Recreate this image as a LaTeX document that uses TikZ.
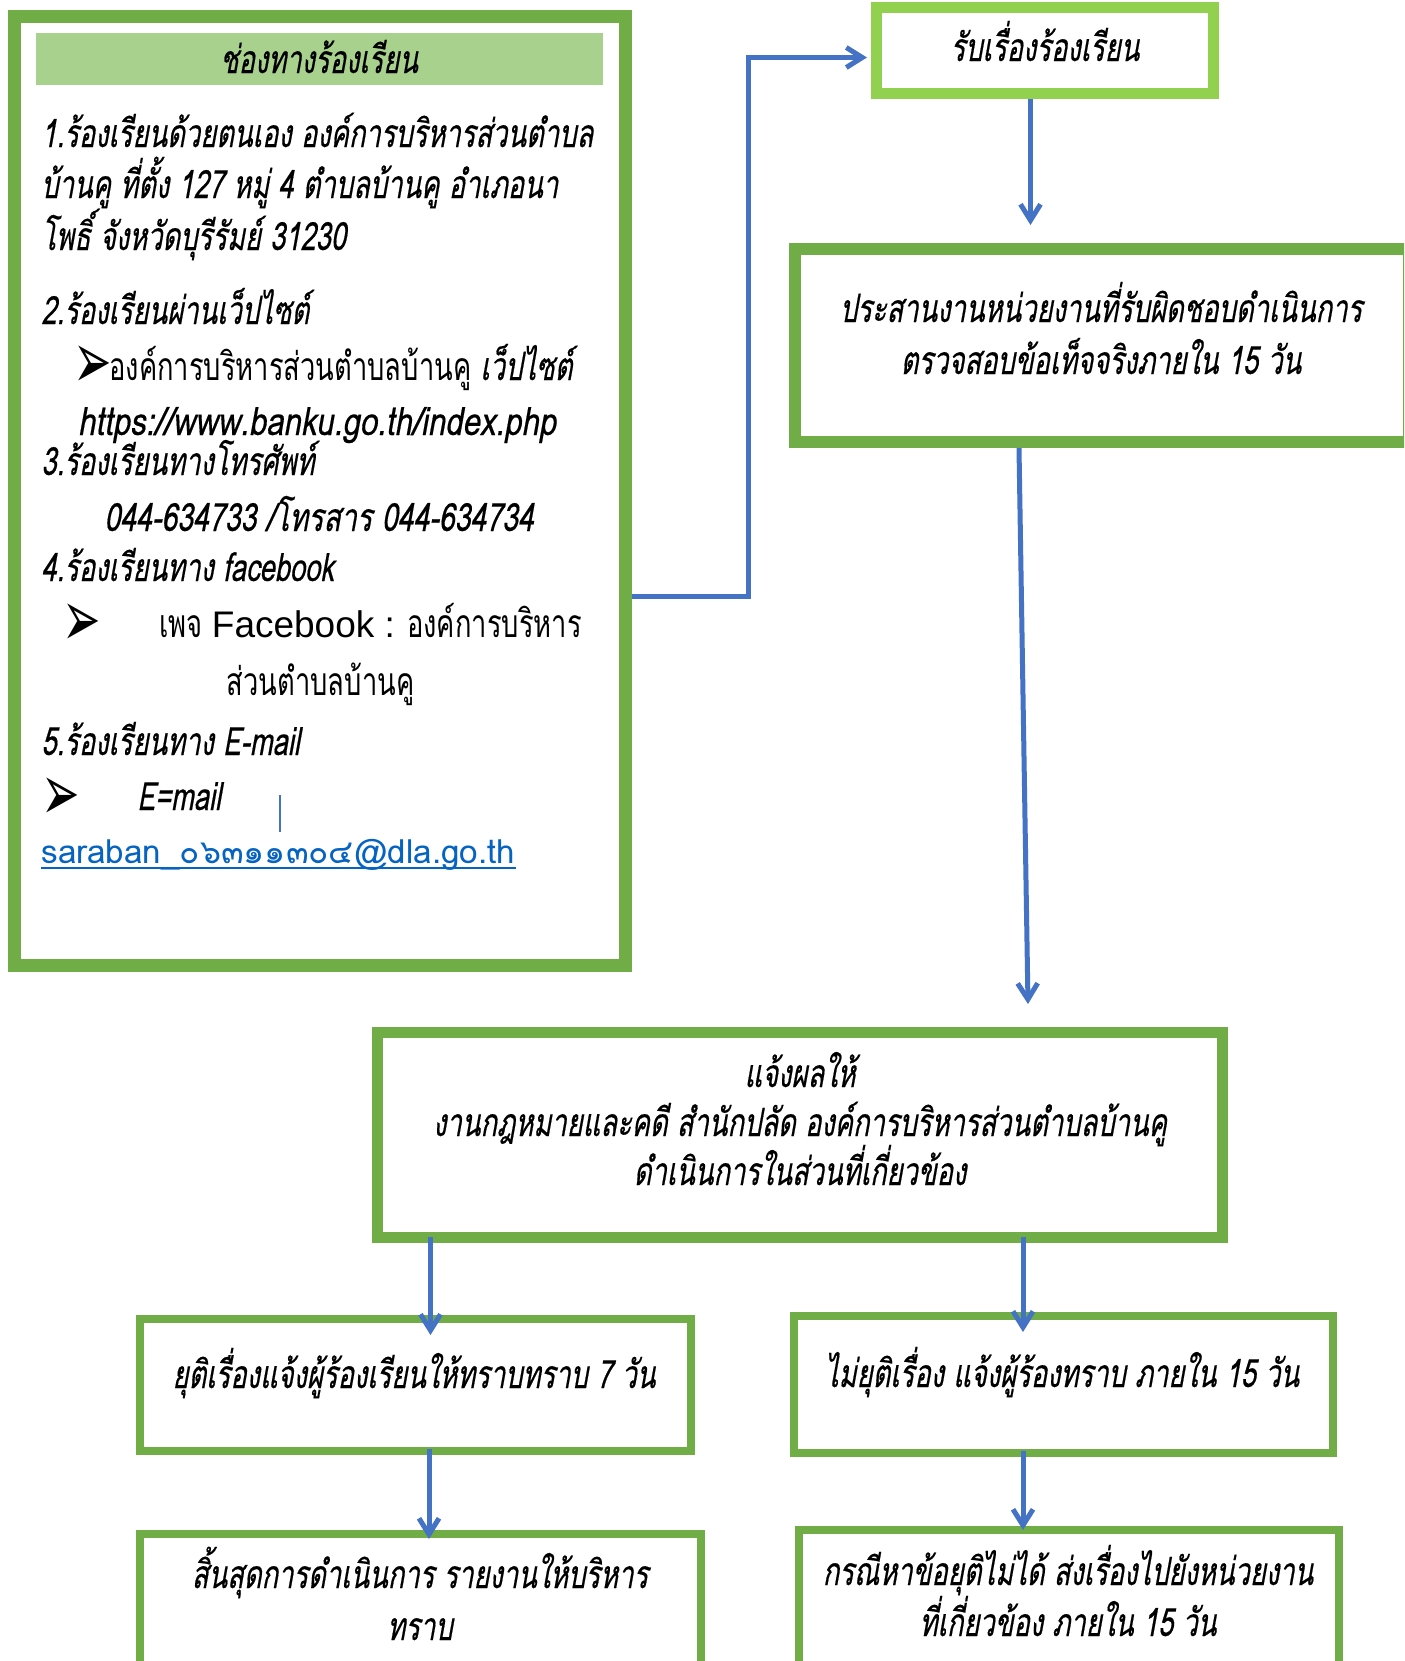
\documentclass[tikz,border=0pt]{standalone}
\usepackage{fontspec}
\usepackage{graphicx}
\usetikzlibrary{arrows.meta,fit,calc}
\newfontfamily\thit[Script=Thai,FakeSlant=0.18,FakeStretch=0.70,FakeBold=0.4]{Loma}
\newfontfamily\thitw[Script=Thai,FakeSlant=0.18,FakeStretch=0.80,FakeBold=0.4]{Loma}
\newfontfamily\thitn[Script=Thai,FakeSlant=0.18,FakeStretch=0.73,FakeBold=0.4]{Loma}
\newfontfamily\thrm[Script=Thai,FakeStretch=0.70]{Loma}
\newfontfamily\thmail[Script=Thai]{Loma}
\newfontfamily\fbfont{Liberation Sans}
\newfontfamily\dingfont{DejaVu Sans}
\newcommand{\bularrow}{\scalebox{1.15}[2.0]{➢}}
\definecolor{gmid}{HTML}{70AD47}
\definecolor{glight}{HTML}{92D050}
\definecolor{hdr}{HTML}{A9D18E}
\definecolor{cblue}{HTML}{4472C4}
\definecolor{mailblue}{HTML}{0563C1}
\tikzset{
  box/.style={draw=gmid,line width=#1,inner sep=0pt},
  box/.default=4pt,
  conn/.style={draw=cblue,line width=2.5pt,-{Straight Barb[length=8pt,width=10pt]}},
  ti/.style={font=\thit\fontsize{19.5}{23}\selectfont,inner sep=0pt},
  tl/.style={ti,anchor=base west},
  tc/.style={ti,anchor=base},
  tr/.style={font=\thrm\fontsize{19.5}{23}\selectfont,inner sep=0pt,anchor=base west},
  bul/.style={font=\dingfont\fontsize{20}{24}\selectfont,inner sep=0pt,anchor=base west},
}
\begin{document}
\begin{tikzpicture}[x=0.5pt,y=-0.5pt]
\useasboundingbox (0,0) rectangle (1404,1661);
\clip (0,0) rectangle (1404,1661);
\fill[white] (0,0) rectangle (1404,1661);

% left box
\node[box=6.5pt,fit={(14.5,16.5) (625.5,965.5)}] (L) {};
\node[fill=hdr,inner sep=0pt,fit={(36,33) (603,85)}] (H) {};
\node[tc] (Ht) at (319,73) {ช่องทางร้องเรียน};
\node[tl] (l1) at (41,147) {1.ร้องเรียนด้วยตนเอง องค์การบริหารส่วนตำบล};
\node[tl] (l2) at (41,198) {บ้านคู ที่ตั้ง 127 หมู่ 4 ตำบลบ้านคู อำเภอนา};
\node[tl] (l3) at (41,250) {โพธิ์ จังหวัดบุรีรัมย์ 31230};
\node[tl] (l4) at (41,324) {2.ร้องเรียนผ่านเว็ปไซต์};
\node[bul] (a1) at (73,388) {\bularrow};
\node[tr] (l5) at (109,380) {องค์การบริหารส่วนตำบลบ้านคู {\thit เว็ปไซต์}};
\node[tl,font=\thitw\fontsize{19.5}{23}\selectfont] (l6) at (77.5,435) {https://www.banku.go.th/index.php};
\node[tl] (l7) at (41,475) {3.ร้องเรียนทางโทรศัพท์};
\node[tl,font=\thitn\fontsize{19.5}{23}\selectfont] (l8) at (104,531) {044-634733 /โทรสาร 044-634734};
\node[tl] (l9) at (41,581) {4.ร้องเรียนทาง facebook};
\node[bul] (a2) at (62,646) {\bularrow};
\node[tr] (l10) at (159,637) {เพจ {\fbfont\fontsize{18.5}{22}\selectfont Facebook :} องค์การบริหาร};
\node[tr] (l11) at (226.5,695) {ส่วนตำบลบ้านคู};
\node[tl] (l12) at (41,755) {5.ร้องเรียนทาง E-mail};
\node[bul] (a3) at (41,820) {\bularrow};
\node[tl] (l13) at (137,810) {E=mail};
\draw[cblue,line width=0.7pt] (280,795) -- (280,832);
\node[inner sep=0pt,anchor=base west,text=mailblue,font=\thmail\fontsize{16.6}{20}\selectfont] (em) at (41,863) {saraban\_๐๖๓๑๑๓๐๔@dla.go.th};
\draw[mailblue,line width=0.8pt] ($(em.base west)+(0,5)$) -- ($(em.base east)+(0,5)$);

% flow boxes
\node[box=5.5pt,draw=glight,fit={(876.5,7.5) (1213.5,93.5)}] (b1) {};
\node[tc] (t1) at (1045,61) {รับเรื่องร้องเรียน};
\node[box=6pt,fit={(795,249) (1409,442)}] (b2) {};
\node[tc] (t2a) at (1101,322) {ประสานงานหน่วยงานที่รับผิดชอบดำเนินการ};
\node[tc] (t2b) at (1101,374) {ตรวจสอบข้อเท็จจริงภายใน 15 วัน};
\node[box=5.5pt,fit={(377.5,1032.5) (1222.5,1237.5)}] (b3) {};
\node[tc] (t3a) at (800,1087) {แจ้งผลให้};
\node[tc] (t3b) at (800,1136) {งานกฎหมายและคดี สำนักปลัด องค์การบริหารส่วนตำบลบ้านคู};
\node[tc] (t3c) at (800,1185) {ดำเนินการในส่วนที่เกี่ยวข้อง};
\node[box,fit={(140,1319) (691,1451)}] (b4) {};
\node[tc] (t4) at (414,1388) {ยุติเรื่องแจ้งผู้ร้องเรียนให้ทราบทราบ 7 วัน};
\node[box,fit={(794,1316) (1333,1453)}] (b5) {};
\node[tc] (t5) at (1062,1387) {ไม่ยุติเรื่อง แจ้งผู้ร้องทราบ ภายใน 15 วัน};
\node[box,fit={(140,1534) (701,1700)}] (b6) {};
\node[tc] (t6a) at (420,1588) {สิ้นสุดการดำเนินการ รายงานให้บริหาร};
\node[tc] (t6b) at (420,1640) {ทราบ};
\node[box,fit={(799,1530) (1339,1700)}] (b7) {};
\node[tc] (t7a) at (1068,1585) {กรณีหาข้อยุติไม่ได้ ส่งเรื่องไปยังหน่วยงาน};
\node[tc] (t7b) at (1068,1636) {ที่เกี่ยวข้อง ภายใน 15 วัน};

% connectors
\coordinate (j1) at (748,596.5);
\coordinate (j2) at (748,57.5);
\coordinate (e1) at (867,57.5);
\draw[conn] (L.east |- j1) -- (j1) -- (j2) -- (e1);
\coordinate (e2) at (1030.5,225);
\draw[conn] (b1.south -| e2) -- (e2);
\coordinate (s3) at (1019,0);
\coordinate (e3) at (1028,1004);
\draw[conn] (b2.south -| s3) -- (e3);
\coordinate (e4) at (430.5,1335);
\draw[conn] ([yshift=3pt]b3.south -| e4) -- (e4);
\coordinate (e5) at (1023,1332);
\draw[conn] ([yshift=3pt]b3.south -| e5) -- (e5);
\coordinate (e6) at (429,1539);
\draw[conn] ([yshift=3pt]b4.south -| e6) -- (e6);
\coordinate (e7) at (1023,1530);
\draw[conn] ([yshift=3pt]b5.south -| e7) -- (e7);
\end{tikzpicture}
\end{document}
